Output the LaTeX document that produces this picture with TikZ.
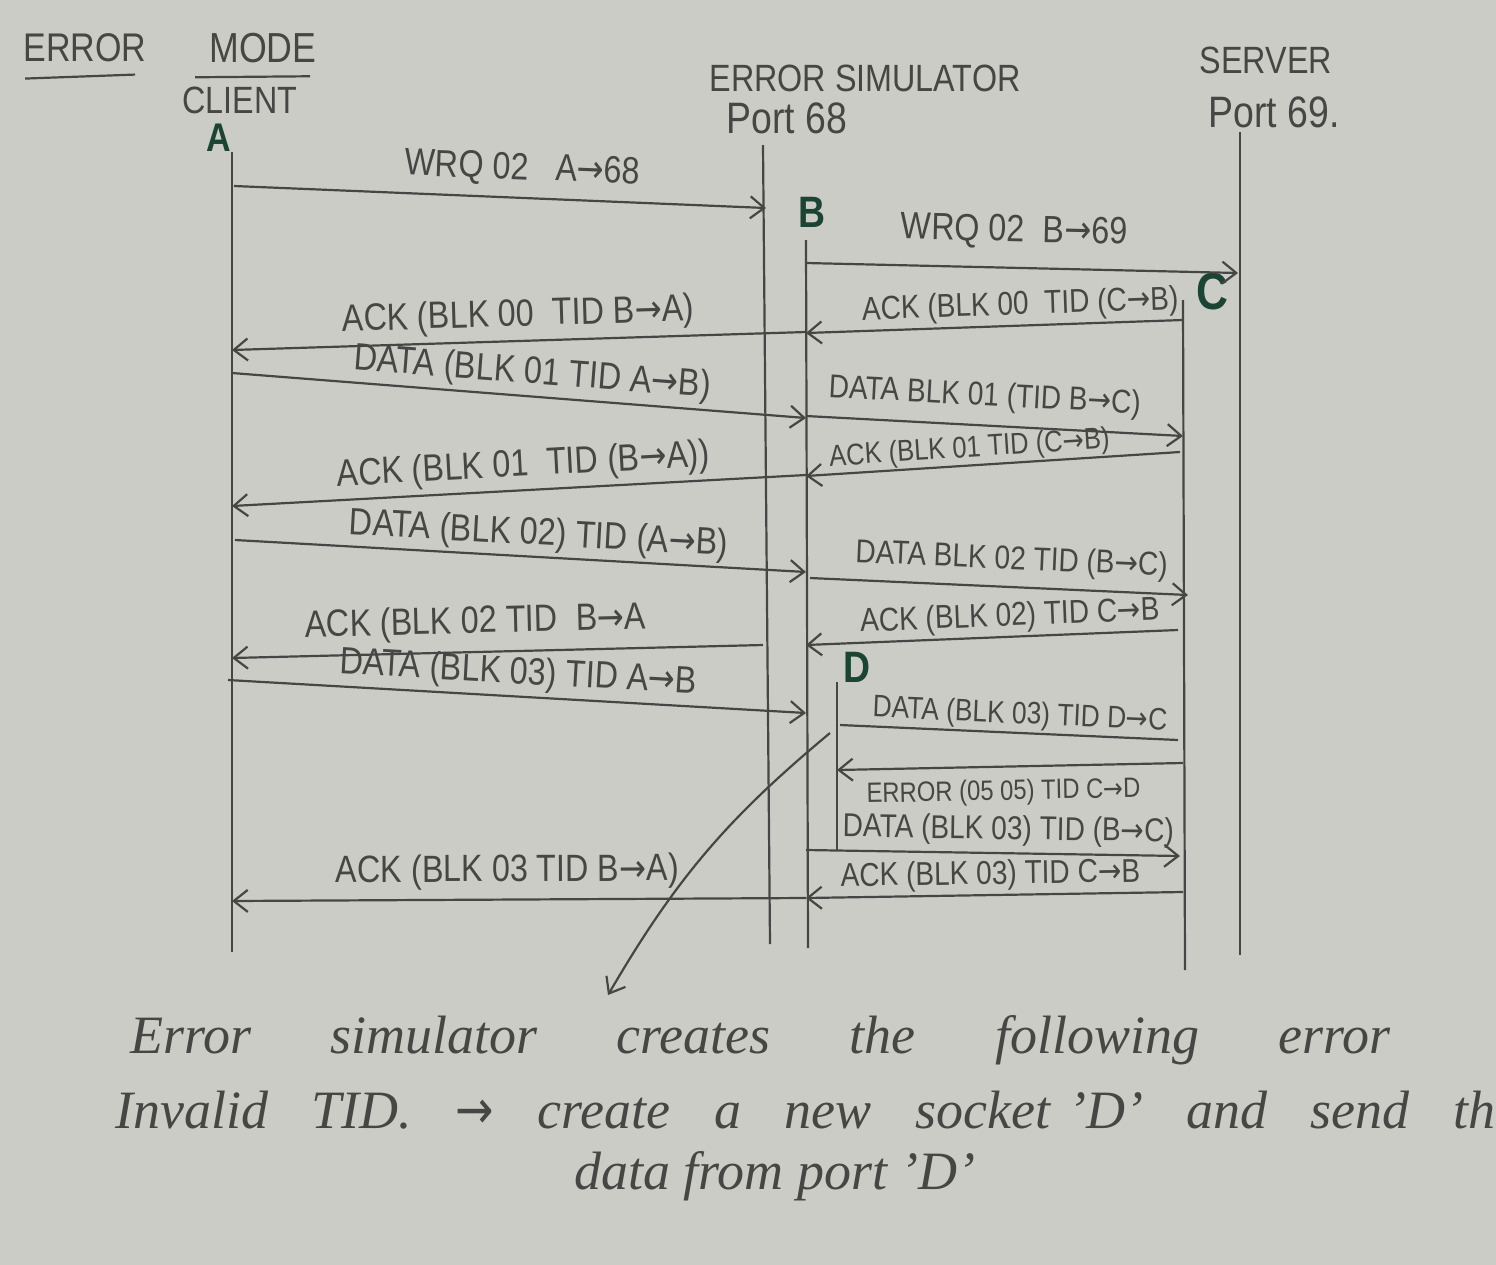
\documentclass[tikz,border=0pt]{standalone}
\usepackage{fontspec}
\setmainfont{Liberation Sans}[FakeStretch=0.85]
\newfontfamily\symfont{DejaVu Sans}[FakeStretch=0.85]
\newfontfamily\handfont{Liberation Serif}
\usetikzlibrary{arrows.meta}
\newcommand{\ra}{{\symfont →}}
\definecolor{paper}{RGB}{204,204,199}
\definecolor{pencil}{RGB}{70,70,68}
\definecolor{ink}{RGB}{28,68,52}
\begin{document}
\begin{tikzpicture}[x=0.5pt,y=-0.5pt,
  life/.style={pencil, line width=1.1pt},
  msg/.style={pencil, line width=1.1pt, -{Straight Barb[length=7pt,width=11pt,line width=1.1pt]}},
  plain/.style={pencil, line width=1.1pt},
  lblL/.style={text=pencil, inner sep=0pt, sloped, font=\fontsize{19}{19}\selectfont},
  lblR/.style={text=pencil, inner sep=0pt, sloped, font=\fontsize{16.5}{16.5}\selectfont},
  lblS/.style={text=pencil, inner sep=0pt, sloped, font=\fontsize{14}{14}\selectfont},
  head/.style={text=pencil, inner sep=0pt, font=\fontsize{19}{19}\selectfont},
  port/.style={text=pencil, inner sep=0pt, font=\fontsize{22}{22}\selectfont},
  tag/.style={text=ink, inner sep=0pt, font=\fontsize{22}{22}\selectfont\bfseries},
  hand/.style={text=pencil, inner sep=0pt, font=\handfont\itshape\fontsize{27}{27}\selectfont}]

\fill[paper] (0,0) rectangle (1496,1265);
\useasboundingbox (0,0) rectangle (1496,1265);

% ---------- title ----------
\node[head, font=\fontsize{20}{20}\selectfont] (tErr) at (85,48) {ERROR};
\node[head, font=\fontsize{21}{21}\selectfont] (tMode) at (263,48) {MODE};
\draw[plain] (tErr.south west) ++(2,16) coordinate (u1a) -- ++(110,-4) coordinate (u1b);
\draw[plain] (tMode.south west) ++(-14,14) coordinate (u2a) -- ++(115,-1) coordinate (u2b);

% ---------- participants ----------
\node[head] (client) at (240,100) {CLIENT};
\node[tag, font=\fontsize{20}{20}\selectfont\bfseries] (tagA) at (219,138) {A};
\node[head] (esim) at (865,78) {ERROR SIMULATOR};
\node[port] (p68) at (787,118) {Port 68};
\node[head] (server) at (1266,60) {SERVER};
\node[port] (p69) at (1274,112) {Port 69.};
\node[tag] (tagB) at (812,212) {B};
\node[tag, font=\fontsize{26}{26}\selectfont\bfseries] (tagC) at (1212,292) {C};
\node[tag] (tagD) at (857,667) {D};

% ---------- lifelines ----------
\coordinate (aTop) at (232,152);  \coordinate (aBot) at (232,952);
\coordinate (eTop) at (763,145);  \coordinate (eBot) at (770,944);
\coordinate (bTop) at (806,240);  \coordinate (bBot) at (808,948);
\coordinate (dTop) at (837,682);  \coordinate (dBot) at (837,850);
\coordinate (cTop) at (1183,300); \coordinate (cBot) at (1185,970);
\coordinate (sTop) at (1240,132); \coordinate (sBot) at (1240,955);
\draw[life] (aTop) -- (aBot);
\draw[life] (eTop) -- (eBot);
\draw[life] (bTop) -- (bBot);
\draw[life] (dTop) -- (dBot);
\draw[life] (cTop) -- (cBot);
\draw[life] (sTop) -- (sBot);

% ---------- message ends ----------
\coordinate (m1s) at (234,186);   \coordinate (m1e) at (766,208);
\coordinate (m2s) at (806,263);   \coordinate (m2e) at (1238,273);
\coordinate (m3s) at (1183,320);  \coordinate (m3e) at (806,333);
\coordinate (m4s) at (806,332);   \coordinate (m4e) at (232,350);
\coordinate (m5s) at (232,373);   \coordinate (m5e) at (806,418);
\coordinate (m6s) at (806,416);   \coordinate (m6e) at (1183,436);
\coordinate (m7s) at (1180,452);  \coordinate (m7e) at (806,476);
\coordinate (m8s) at (806,475);   \coordinate (m8e) at (232,506);
\coordinate (m9s) at (235,540);   \coordinate (m9e) at (806,572);
\coordinate (m10s) at (810,578);  \coordinate (m10e) at (1188,595);
\coordinate (m11s) at (1178,630); \coordinate (m11e) at (806,645);
\coordinate (m12s) at (763,645);  \coordinate (m12e) at (232,658);
\coordinate (m13s) at (228,680);  \coordinate (m13e) at (806,713);
\coordinate (m14s) at (840,725);  \coordinate (m14e) at (1178,740);
\coordinate (m15s) at (1183,763); \coordinate (m15e) at (837,770);
\coordinate (m16s) at (806,850);  \coordinate (m16e) at (1180,856);
\coordinate (m17s) at (1183,892); \coordinate (m17e) at (806,898);
\coordinate (m18s) at (806,898);  \coordinate (m18e) at (232,901);

% ---------- messages with their labels ----------
\draw[msg] (m1s) -- node[lblL, pos=0.54, above=5pt] (l1) {WRQ 02 \ \ A\ra68} (m1e);
\draw[msg] (m2s) -- node[lblL, pos=0.48, above=9pt] (l2) {WRQ 02 \ B\ra69} (m2e);
\draw[msg] (m3s) -- node[lblR, pos=0.43, above=1.5pt] (l3) {ACK (BLK 00 \ TID (C\ra B)} (m3e);
\draw[msg] (m4s) -- node[lblL, pos=0.50, above=3pt] (l4) {ACK (BLK 00 \ TID B\ra A)} (m4e);
\draw[msg] (m5s) -- node[lblL, pos=0.52, above=2pt] (l5) {DATA (BLK 01 TID A\ra B)} (m5e);
\draw[msg] (m6s) -- node[lblR, pos=0.47, above=6pt] (l6) {DATA BLK 01 (TID B\ra C)} (m6e);
\draw[msg] (m7s) -- node[lblR, pos=0.56, above=0.5pt, font=\fontsize{15}{15}\selectfont] (l7) {ACK (BLK 01 TID (C\ra B)} (m7e);
\draw[msg] (m8s) -- node[lblL, pos=0.49, above=2.5pt] (l8) {ACK (BLK 01 \ TID (B\ra A))} (m8e);
\draw[msg] (m9s) -- node[lblL, pos=0.53, above=1.5pt] (l9) {DATA (BLK 02) TID (A\ra B)} (m9e);
\draw[msg] (m10s) -- node[lblR, pos=0.53, above=5pt] (l10) {DATA BLK 02 TID (B\ra C)} (m10e);
\draw[msg] (m11s) -- node[lblR, pos=0.45, above=1.5pt] (l11) {ACK (BLK 02) TID C\ra B} (m11e);
\draw[msg] (m12s) -- node[lblL, pos=0.54, above=5pt] (l12) {ACK (BLK 02 TID \ B\ra A} (m12e);
\draw[msg] (m13s) -- node[lblL, pos=0.50, above=2pt] (l13) {DATA (BLK 03) TID A\ra B} (m13e);
\draw[plain] (m14s) -- node[lblR, pos=0.53, above=1pt, font=\fontsize{15.5}{15.5}\selectfont] (l14) {DATA (BLK 03) TID D\ra C} (m14e);
\draw[msg] (m15s) -- node[lblS, pos=0.52, below=6pt] (l15) {ERROR (05 05) TID C\ra D} (m15e);
\draw[msg] (m16s) -- node[lblR, pos=0.54, above=3pt] (l16) {DATA (BLK 03) TID (B\ra C)} (m16e);
\draw[msg] (m17s) -- node[lblR, pos=0.51, above=1.5pt] (l17) {ACK (BLK 03) TID C\ra B} (m17e);
\draw[msg] (m18s) -- node[lblL, pos=0.52, above=4.5pt] (l18) {ACK (BLK 03 TID B\ra A)} (m18e);

% ---------- note ----------
\coordinate (nStart) at (830,733);
\coordinate (nEnd) at (608,995);
\draw[msg] (nStart) to[bend right=10] (nEnd);

\node[hand, anchor=west, text width=630pt] (note1) at (130,1040)
  {\noindent Error\hfill simulator\hfill creates\hfill the\hfill following\hfill error};
\node[hand, anchor=west, text width=690pt] (note2) at (115,1110)
  {\noindent Invalid\hfill TID.\hfill \ra\hfill create\hfill a\hfill new\hfill socket ’D’\hfill and\hfill send\hfill th};
\node[hand] (note3) at (775,1176) {data from port ’D’};
\end{tikzpicture}
\end{document}
